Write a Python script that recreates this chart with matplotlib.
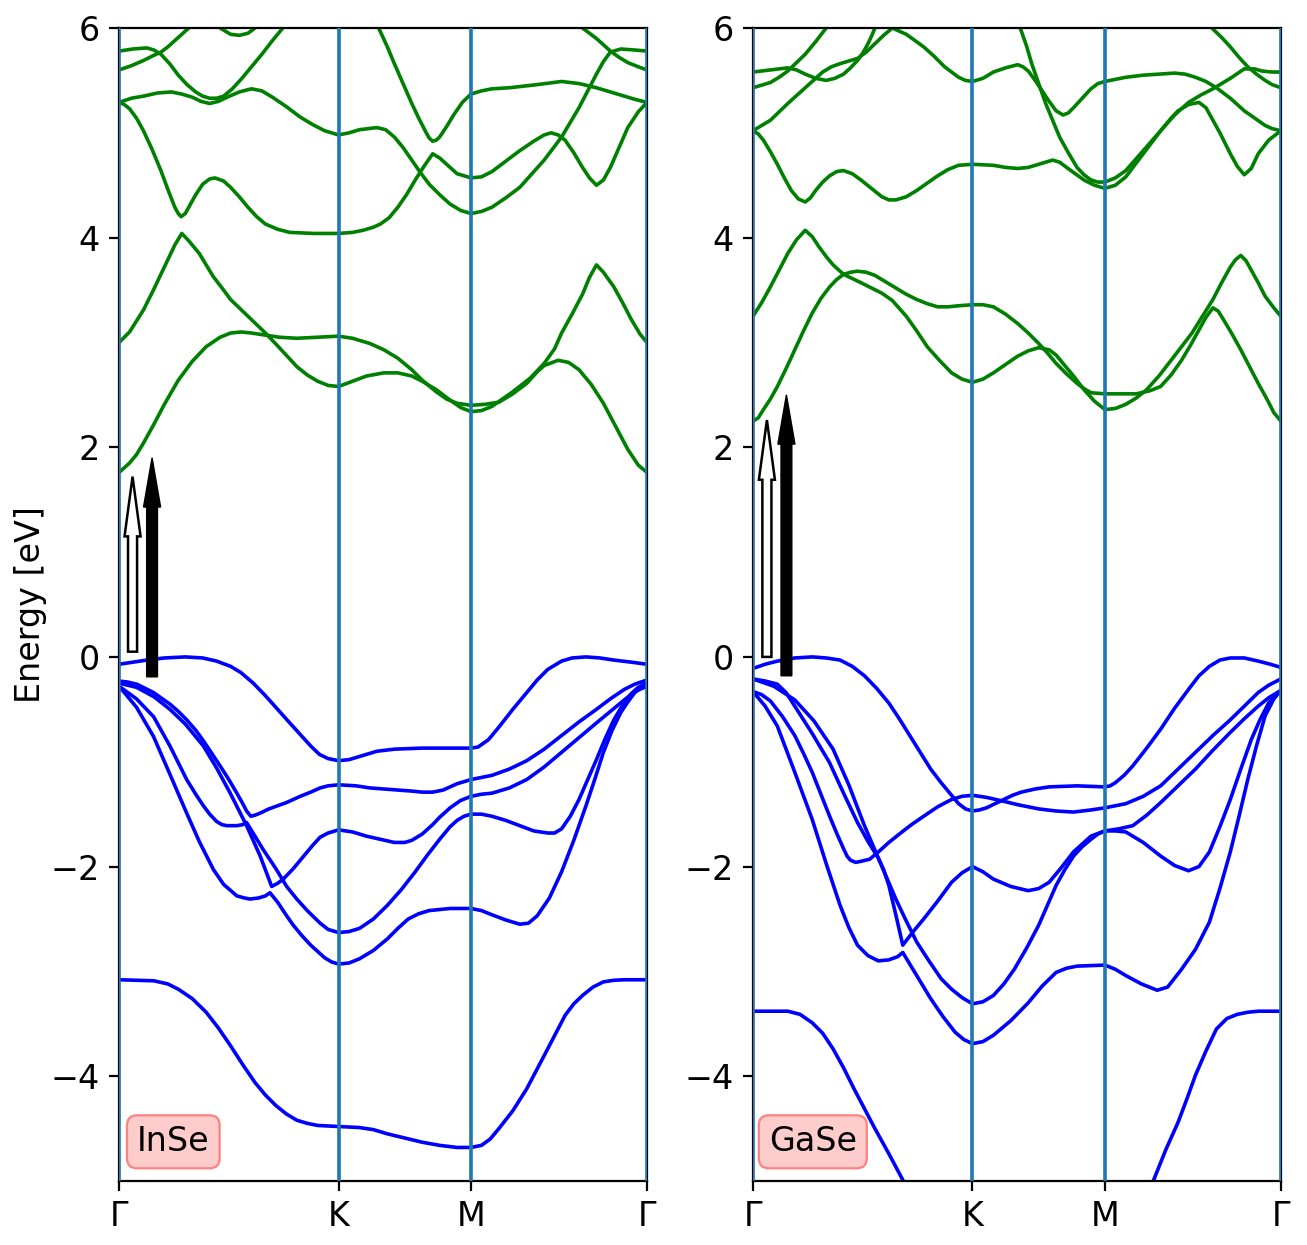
import matplotlib
matplotlib.use("Agg")
import matplotlib.pyplot as plt

# ---------------- k-path ----------------
kpath_ticks = [0.0, 0.630, 1.010, 1.515]
kpath_labels = ["Γ", "K", "M", "Γ"]
energy_ticks = [-4, -2, 0, 2, 4, 6]
materials = ["InSe", "GaSe"]

# ================= InSe (left) =================
inse_v1_k = [0, .04, .08, .13, .19, .24, .28, .32, .35, .385, .42, .455, .49, .52, .55, .575, .60, .63, .66, .69, .74, .79, .87, .97, 1.01, 1.03, 1.06, 1.09, 1.13, 1.17, 1.20, 1.23, 1.27, 1.30, 1.34, 1.38, 1.42, 1.47, 1.515]
inse_v1_e = [-0.07, -0.05, -0.03, -0.01, 0.0, -0.01, -0.04, -0.09, -0.15, -0.25, -0.37, -0.50, -0.63, -0.74, -0.85, -0.93, -0.97, -0.99, -0.98, -0.95, -0.90, -0.88, -0.87, -0.87, -0.87, -0.86, -0.79, -0.67, -0.50, -0.34, -0.22, -0.12, -0.04, -0.01, 0.0, -0.01, -0.03, -0.05, -0.07]

inse_v2_k = [0, .025, .051, .075, .099, .12, .146, .17, .194, .22, .242, .266, .290, .315, .338, .355, .366, .378, .39, .405, .43, .455, .48, .52, .55, .577, .60, .63, .68, .72, .76, .80, .84, .87, .90, .93, .95, .97, .99, 1.01, 1.04, 1.07, 1.12, 1.17, 1.22, 1.27, 1.32, 1.37, 1.41, 1.45, 1.48, 1.515]
inse_v2_e = [-0.23, -0.24, -0.26, -0.30, -0.34, -0.39, -0.45, -0.52, -0.60, -0.70, -0.80, -0.92, -1.04, -1.17, -1.30, -1.40, -1.47, -1.52, -1.51, -1.49, -1.45, -1.42, -1.39, -1.33, -1.29, -1.25, -1.23, -1.22, -1.23, -1.25, -1.26, -1.27, -1.28, -1.29, -1.29, -1.27, -1.24, -1.21, -1.19, -1.17, -1.15, -1.13, -1.07, -0.99, -0.88, -0.75, -0.62, -0.50, -0.40, -0.31, -0.26, -0.22]

inse_v3_k = [0, .05, .10, .146, .19, .242, .28, .319, .366, .405, .438, .455, .471, .50, .53, .555, .577, .60, .63, .67, .71, .75, .79, .82, .84, .87, .90, .92, .95, .98, 1.01, 1.04, 1.07, 1.12, 1.17, 1.22, 1.27, 1.32, 1.37, 1.41, 1.45, 1.48, 1.515]
inse_v3_e = [-0.25, -0.29, -0.38, -0.50, -0.64, -0.85, -1.06, -1.30, -1.61, -1.90, -2.19, -2.16, -2.12, -2.02, -1.90, -1.80, -1.72, -1.68, -1.65, -1.67, -1.71, -1.74, -1.77, -1.77, -1.75, -1.69, -1.60, -1.53, -1.44, -1.37, -1.33, -1.31, -1.30, -1.25, -1.17, -1.05, -0.91, -0.77, -0.63, -0.52, -0.41, -0.33, -0.28]

inse_v4_k = [0, .05, .099, .146, .194, .22, .242, .26, .280, .295, .309, .338, .355, .366, .39, .414, .45, .481, .51, .54, .577, .60, .63, .66, .69, .73, .77, .81, .85, .885, .92, .95, .97, .99, 1.01, 1.04, 1.07, 1.11, 1.15, 1.19, 1.23, 1.25, 1.27, 1.295, 1.32, 1.345, 1.37, 1.395, 1.42, 1.445, 1.47, 1.49, 1.515]
inse_v4_e = [-0.28, -0.40, -0.57, -0.85, -1.17, -1.31, -1.42, -1.50, -1.57, -1.60, -1.61, -1.61, -1.60, -1.58, -1.71, -1.84, -2.02, -2.19, -2.31, -2.42, -2.54, -2.60, -2.63, -2.62, -2.59, -2.50, -2.37, -2.22, -2.05, -1.89, -1.74, -1.62, -1.56, -1.52, -1.50, -1.50, -1.52, -1.56, -1.61, -1.66, -1.68, -1.68, -1.64, -1.52, -1.36, -1.17, -0.98, -0.78, -0.60, -0.46, -0.35, -0.29, -0.25]

inse_v5_k = [0, .05, .099, .146, .194, .23, .271, .30, .338, .36, .376, .40, .42, .433, .455, .481, .50, .525, .55, .59, .61, .63, .66, .69, .73, .77, .80, .83, .86, .89, .95, 1.01, 1.04, 1.07, 1.11, 1.15, 1.175, 1.20, 1.235, 1.27, 1.305, 1.34, 1.365, 1.39, 1.415, 1.44, 1.46, 1.48, 1.50, 1.515]
inse_v5_e = [-0.28, -0.48, -0.76, -1.12, -1.49, -1.76, -2.03, -2.17, -2.28, -2.30, -2.31, -2.30, -2.28, -2.25, -2.34, -2.47, -2.56, -2.66, -2.75, -2.87, -2.91, -2.93, -2.92, -2.88, -2.80, -2.69, -2.59, -2.50, -2.45, -2.42, -2.40, -2.40, -2.42, -2.46, -2.51, -2.55, -2.54, -2.47, -2.30, -2.05, -1.75, -1.42, -1.17, -0.91, -0.70, -0.53, -0.43, -0.34, -0.29, -0.26]

inse_v6_k = [0, .10, .14, .17, .21, .25, .285, .32, .355, .39, .42, .45, .48, .51, .54, .57, .63, .69, .73, .77, .82, .87, .92, .97, 1.01, 1.04, 1.065, 1.09, 1.13, 1.17, 1.20, 1.23, 1.255, 1.28, 1.305, 1.33, 1.36, 1.39, 1.42, 1.45, 1.515]
inse_v6_e = [-3.08, -3.09, -3.12, -3.17, -3.26, -3.39, -3.54, -3.71, -3.89, -4.06, -4.18, -4.28, -4.36, -4.42, -4.45, -4.47, -4.48, -4.49, -4.51, -4.55, -4.59, -4.63, -4.66, -4.68, -4.68, -4.66, -4.60, -4.50, -4.33, -4.12, -3.93, -3.74, -3.58, -3.42, -3.31, -3.23, -3.15, -3.10, -3.085, -3.08, -3.08]

inse_c1_k = [0, .03, .05, .07, .10, .13, .17, .21, .25, .29, .32, .35, .38, .42, .46, .51, .57, .63, .67, .72, .76, .80, .84, .87, .91, .94, .97, 1.01, 1.05, 1.09, 1.13, 1.17, 1.20, 1.22, 1.26, 1.29, 1.32, 1.355, 1.39, 1.425, 1.46, 1.49, 1.515]
inse_c1_e = [1.76, 1.85, 1.93, 2.04, 2.22, 2.41, 2.64, 2.82, 2.96, 3.05, 3.09, 3.10, 3.09, 3.07, 3.05, 3.04, 3.05, 3.06, 3.04, 2.99, 2.93, 2.85, 2.74, 2.64, 2.53, 2.46, 2.42, 2.40, 2.41, 2.43, 2.51, 2.61, 2.72, 2.78, 2.83, 2.81, 2.74, 2.60, 2.42, 2.20, 1.98, 1.83, 1.76]

inse_c2_k = [0, .03, .07, .10, .14, .16, .18, .20, .23, .25, .27, .30, .32, .37, .42, .46, .51, .54, .57, .60, .63, .67, .71, .76, .80, .84, .87, .91, .95, .98, 1.01, 1.04, 1.07, 1.10, 1.13, 1.18, 1.22, 1.25, 1.27, 1.30, 1.33, 1.35, 1.37, 1.39, 1.42, 1.445, 1.47, 1.495, 1.515]
inse_c2_e = [3.00, 3.10, 3.31, 3.51, 3.79, 3.93, 4.04, 3.97, 3.85, 3.74, 3.63, 3.50, 3.41, 3.25, 3.09, 2.95, 2.77, 2.69, 2.63, 2.59, 2.58, 2.63, 2.68, 2.71, 2.71, 2.68, 2.63, 2.55, 2.45, 2.38, 2.34, 2.35, 2.39, 2.46, 2.53, 2.66, 2.80, 2.94, 3.09, 3.27, 3.46, 3.62, 3.74, 3.67, 3.53, 3.38, 3.22, 3.08, 3.00]

inse_c3_k = [0, .015, .03, .05, .07, .095, .12, .14, .16, .17, .178, .19, .20, .22, .24, .26, .275, .30, .32, .345, .37, .395, .42, .455, .49, .56, .63, .67, .70, .73, .75, .775, .80, .825, .85, .875, .90, .92, .94, .97, 1.01, 1.04, 1.07, 1.11, 1.15, 1.19, 1.22, 1.24, 1.26, 1.28, 1.305, 1.33, 1.35, 1.37, 1.39, 1.41, 1.435, 1.46, 1.49, 1.515]
inse_c3_e = [5.29, 5.27, 5.23, 5.14, 5.02, 4.84, 4.64, 4.46, 4.29, 4.23, 4.20, 4.23, 4.29, 4.41, 4.51, 4.56, 4.57, 4.54, 4.48, 4.39, 4.29, 4.20, 4.13, 4.08, 4.05, 4.04, 4.04, 4.05, 4.07, 4.10, 4.13, 4.19, 4.29, 4.41, 4.55, 4.68, 4.80, 4.76, 4.70, 4.61, 4.57, 4.58, 4.63, 4.73, 4.83, 4.92, 4.98, 5.00, 4.98, 4.93, 4.81, 4.67, 4.57, 4.50, 4.55, 4.67, 4.86, 5.05, 5.20, 5.29]

inse_c4_k = [0, .035, .07, .11, .15, .18, .21, .235, .26, .285, .31, .345, .38, .41, .44, .48, .52, .555, .59, .63, .66, .69, .74, .765, .79, .815, .84, .865, .89, .92, .95, .98, 1.01, 1.04, 1.07, 1.11, 1.15, 1.185, 1.22, 1.245, 1.27, 1.295, 1.32, 1.345, 1.37, 1.39, 1.41, 1.44, 1.48, 1.515]
inse_c4_e = [5.29, 5.33, 5.35, 5.38, 5.39, 5.37, 5.34, 5.30, 5.28, 5.30, 5.34, 5.39, 5.42, 5.40, 5.34, 5.25, 5.15, 5.08, 5.02, 4.98, 5.00, 5.03, 5.05, 5.03, 4.96, 4.86, 4.74, 4.62, 4.51, 4.41, 4.32, 4.26, 4.23, 4.25, 4.29, 4.38, 4.48, 4.61, 4.74, 4.85, 4.96, 5.10, 5.24, 5.40, 5.56, 5.68, 5.77, 5.80, 5.79, 5.78]

inse_c5_k = [0, .04, .08, .10, .12, .145, .17, .195, .22, .24, .26, .28, .30, .325, .35, .38, .41, .44, .47, .49]
inse_c5_e = [5.78, 5.80, 5.81, 5.79, 5.75, 5.66, 5.55, 5.46, 5.39, 5.35, 5.33, 5.33, 5.35, 5.42, 5.51, 5.63, 5.75, 5.88, 6.00, 6.07]

inse_c6_k = [0, .035, .07, .10, .12, .14, .16, .18, .20, .22]
inse_c6_e = [5.60, 5.64, 5.69, 5.74, 5.77, 5.82, 5.88, 5.94, 6.00, 6.07]

inse_c7_k = [.27, .29, .32, .345, .37, .39, .41]
inse_c7_e = [6.07, 6.00, 5.94, 5.93, 5.95, 6.00, 6.07]

inse_c8_k = [.73, .745, .77, .79, .815, .84, .86, .88, .89, .90, .91, .92, .94, .96, .985, 1.01, 1.04, 1.07, 1.12, 1.20, 1.27, 1.32, 1.37, 1.41, 1.44, 1.48, 1.515]
inse_c8_e = [6.07, 6.00, 5.82, 5.66, 5.47, 5.28, 5.14, 5.01, 4.95, 4.92, 4.93, 4.96, 5.06, 5.17, 5.29, 5.37, 5.40, 5.42, 5.43, 5.46, 5.49, 5.47, 5.43, 5.39, 5.36, 5.32, 5.29]

inse_c9_k = [1.31, 1.33, 1.35, 1.37, 1.39, 1.41, 1.435, 1.46, 1.49, 1.515]
inse_c9_e = [6.07, 6.00, 5.95, 5.90, 5.84, 5.78, 5.72, 5.67, 5.63, 5.60]

# ================= GaSe (right) =================
gase_v1_k = [0, .035, .07, .12, .17, .21, .25, .285, .32, .355, .39, .42, .45, .48, .51, .54, .57, .59, .61, .63, .65, .67, .695, .72, .745, .77, .81, .85, .93, 1.01, 1.025, 1.04, 1.065, 1.09, 1.13, 1.17, 1.21, 1.25, 1.28, 1.31, 1.34, 1.37, 1.41, 1.45, 1.485, 1.515]
gase_v1_e = [-0.11, -0.07, -0.04, -0.01, 0.0, -0.01, -0.03, -0.09, -0.18, -0.30, -0.44, -0.59, -0.75, -0.91, -1.07, -1.20, -1.32, -1.40, -1.45, -1.47, -1.46, -1.44, -1.40, -1.36, -1.32, -1.29, -1.26, -1.24, -1.23, -1.24, -1.23, -1.20, -1.13, -1.04, -0.87, -0.69, -0.49, -0.31, -0.18, -0.09, -0.03, -0.01, -0.01, -0.04, -0.07, -0.10]

gase_v2_k = [0, .025, .05, .085, .12, .145, .17, .195, .22, .24, .26, .27, .28, .295, .31, .335, .36, .39, .42, .455, .49, .53, .57, .60, .63, .67, .71, .76, .82, .87, .92, .97, 1.01, 1.04, 1.07, 1.12, 1.17, 1.22, 1.27, 1.32, 1.37, 1.41, 1.45, 1.48, 1.515]
gase_v2_e = [-0.33, -0.36, -0.42, -0.57, -0.75, -0.92, -1.10, -1.31, -1.52, -1.68, -1.83, -1.90, -1.94, -1.96, -1.95, -1.93, -1.86, -1.77, -1.69, -1.60, -1.52, -1.43, -1.36, -1.33, -1.32, -1.34, -1.37, -1.41, -1.45, -1.47, -1.48, -1.46, -1.44, -1.42, -1.40, -1.33, -1.23, -1.07, -0.91, -0.75, -0.60, -0.47, -0.34, -0.27, -0.21]

gase_v3_k = [0, .035, .07, .095, .12, .17, .22, .26, .30, .33, .36, .375, .39, .41, .43, .46, .49, .53, .57, .60, .63, .66, .69, .74, .79, .82, .85, .885, .92, .95, .97, 1.01, 1.04, 1.07, 1.12, 1.17, 1.21, 1.25, 1.28, 1.31, 1.34, 1.37, 1.40, 1.43, 1.455, 1.48, 1.50, 1.515]
gase_v3_e = [-0.21, -0.23, -0.26, -0.34, -0.47, -0.73, -1.01, -1.30, -1.58, -1.76, -1.92, -2.03, -2.18, -2.46, -2.75, -2.62, -2.50, -2.33, -2.15, -2.06, -2.00, -2.05, -2.12, -2.19, -2.23, -2.21, -2.15, -2.01, -1.86, -1.77, -1.71, -1.66, -1.66, -1.67, -1.77, -1.90, -1.99, -2.04, -2.00, -1.86, -1.62, -1.36, -1.07, -0.79, -0.60, -0.44, -0.36, -0.32]

gase_v4_k = [0, .06, .12, .175, .23, .275, .32, .365, .41, .44, .47, .505, .54, .57, .60, .63, .66, .69, .72, .75, .785, .82, .845, .87, .895, .92, .945, .97, .99, 1.01, 1.05, 1.09, 1.13, 1.17, 1.22, 1.27, 1.32, 1.37, 1.41, 1.45, 1.48, 1.515]
gase_v4_e = [-0.21, -0.28, -0.41, -0.61, -0.88, -1.22, -1.61, -1.96, -2.31, -2.52, -2.72, -2.90, -3.07, -3.17, -3.25, -3.31, -3.29, -3.23, -3.12, -2.98, -2.78, -2.56, -2.37, -2.18, -2.03, -1.90, -1.81, -1.74, -1.69, -1.66, -1.64, -1.61, -1.51, -1.39, -1.23, -1.07, -0.89, -0.72, -0.59, -0.47, -0.39, -0.32]

gase_v5_k = [0, .035, .07, .12, .17, .21, .25, .275, .30, .33, .36, .39, .415, .43, .47, .51, .545, .58, .605, .63, .66, .69, .74, .79, .83, .87, .90, .93, 1.01, 1.04, 1.07, 1.115, 1.16, 1.19, 1.23, 1.27, 1.31, 1.34, 1.37, 1.395, 1.42, 1.445, 1.47, 1.495, 1.515]
gase_v5_e = [-0.33, -0.47, -0.66, -1.10, -1.55, -1.97, -2.37, -2.58, -2.75, -2.85, -2.90, -2.89, -2.86, -2.82, -3.04, -3.26, -3.43, -3.58, -3.65, -3.69, -3.67, -3.61, -3.47, -3.30, -3.14, -3.01, -2.97, -2.95, -2.94, -2.98, -3.04, -3.12, -3.18, -3.15, -2.98, -2.79, -2.53, -2.21, -1.86, -1.52, -1.17, -0.85, -0.56, -0.40, -0.32]

gase_v6a_k = [0, .10, .135, .17, .20, .23, .26, .29, .32, .35, .39, .43, .45]
gase_v6a_e = [-3.38, -3.38, -3.41, -3.49, -3.59, -3.74, -3.92, -4.12, -4.31, -4.50, -4.74, -4.99, -5.14]
gase_v6b_k = [1.13, 1.15, 1.185, 1.22, 1.245, 1.27, 1.30, 1.33, 1.36, 1.39, 1.42, 1.45, 1.515]
gase_v6b_e = [-5.20, -4.99, -4.70, -4.44, -4.22, -3.99, -3.76, -3.55, -3.45, -3.41, -3.39, -3.38, -3.38]

gase_c1_k = [0, .015, .03, .05, .07, .095, .12, .145, .17, .195, .22, .24, .26, .28, .30, .325, .35, .38, .41, .44, .47, .50, .53, .56, .59, .63, .66, .69, .725, .76, .79, .82, .845, .87, .90, .93, .95, .97, 1.01, 1.05, 1.10, 1.14, 1.17, 1.20, 1.23, 1.255, 1.28, 1.30, 1.32, 1.335, 1.35, 1.375, 1.40, 1.425, 1.45, 1.475, 1.495, 1.515]
gase_c1_e = [2.25, 2.28, 2.36, 2.46, 2.58, 2.75, 2.93, 3.11, 3.28, 3.42, 3.53, 3.60, 3.65, 3.67, 3.68, 3.67, 3.64, 3.58, 3.52, 3.46, 3.41, 3.37, 3.34, 3.34, 3.35, 3.36, 3.36, 3.34, 3.27, 3.18, 3.09, 2.99, 2.90, 2.80, 2.70, 2.61, 2.56, 2.52, 2.51, 2.51, 2.51, 2.54, 2.58, 2.69, 2.83, 2.97, 3.12, 3.24, 3.33, 3.30, 3.22, 3.08, 2.93, 2.77, 2.61, 2.46, 2.33, 2.25]

gase_c2_k = [0, .025, .05, .075, .10, .125, .15, .17, .19, .21, .23, .26, .285, .31, .34, .37, .40, .44, .47, .50, .535, .57, .60, .63, .66, .69, .725, .76, .79, .82, .85, .87, .89, .92, .95, .98, 1.01, 1.04, 1.07, 1.10, 1.13, 1.165, 1.20, 1.23, 1.26, 1.29, 1.32, 1.345, 1.37, 1.385, 1.40, 1.415, 1.43, 1.45, 1.47, 1.495, 1.515]
gase_c2_e = [3.25, 3.38, 3.53, 3.69, 3.85, 3.98, 4.07, 4.01, 3.91, 3.82, 3.74, 3.65, 3.61, 3.57, 3.52, 3.47, 3.40, 3.25, 3.11, 2.96, 2.83, 2.71, 2.65, 2.62, 2.65, 2.71, 2.79, 2.87, 2.92, 2.95, 2.93, 2.88, 2.80, 2.68, 2.55, 2.44, 2.36, 2.37, 2.41, 2.47, 2.55, 2.68, 2.83, 2.96, 3.09, 3.25, 3.41, 3.57, 3.72, 3.79, 3.83, 3.78, 3.69, 3.57, 3.44, 3.33, 3.25]

gase_c3_k = [0, .015, .03, .05, .07, .09, .11, .13, .15, .165, .18, .20, .22, .24, .26, .285, .31, .34, .37, .39, .41, .44, .47, .50, .53, .56, .59, .63, .69, .725, .76, .79, .82, .86, .88, .90, .925, .95, .98, 1.01, 1.04, 1.07, 1.12, 1.17, 1.20, 1.22, 1.25, 1.28, 1.30, 1.31, 1.34, 1.37, 1.39, 1.41, 1.43, 1.45, 1.48, 1.515]
gase_c3_e = [5.02, 4.99, 4.93, 4.82, 4.70, 4.57, 4.45, 4.37, 4.34, 4.38, 4.45, 4.53, 4.59, 4.63, 4.64, 4.61, 4.55, 4.47, 4.39, 4.36, 4.36, 4.39, 4.45, 4.52, 4.59, 4.65, 4.69, 4.70, 4.69, 4.67, 4.66, 4.67, 4.70, 4.74, 4.72, 4.67, 4.61, 4.55, 4.50, 4.47, 4.50, 4.58, 4.80, 5.02, 5.14, 5.21, 5.27, 5.29, 5.24, 5.18, 5.00, 4.80, 4.68, 4.60, 4.66, 4.80, 4.93, 5.02]

gase_c4_k = [0, .05, .10, .15, .20, .225, .25, .30, .325, .35, .375, .40, .44, .465, .49, .52, .55, .59, .61, .63, .66, .69, .725, .76, .775, .79, .81, .83, .85, .87, .89, .905, .92, .945, .97, .99, 1.01, 1.07, 1.12, 1.21, 1.24, 1.27, 1.30, 1.33, 1.37, 1.41, 1.44, 1.47, 1.49, 1.515]
gase_c4_e = [5.02, 5.12, 5.28, 5.43, 5.58, 5.63, 5.66, 5.71, 5.77, 5.85, 5.93, 6.00, 5.94, 5.88, 5.82, 5.73, 5.63, 5.53, 5.50, 5.49, 5.52, 5.58, 5.62, 5.65, 5.63, 5.59, 5.50, 5.40, 5.30, 5.21, 5.17, 5.19, 5.24, 5.33, 5.42, 5.47, 5.49, 5.53, 5.55, 5.57, 5.56, 5.53, 5.49, 5.43, 5.33, 5.21, 5.14, 5.07, 5.04, 5.02]

gase_c5_k = [0, .05, .10, .125, .15, .18, .21, .235, .26, .28, .30, .315, .33, .34, .35, .357]
gase_c5_e = [5.58, 5.60, 5.62, 5.60, 5.56, 5.52, 5.50, 5.52, 5.56, 5.62, 5.69, 5.76, 5.85, 5.92, 6.00, 6.07]

gase_c6_k = [0, .05, .075, .10, .125, .15, .18, .21, .217]
gase_c6_e = [5.43, 5.48, 5.53, 5.59, 5.67, 5.75, 5.87, 6.00, 6.07]

gase_c7_k = [.757, .767, .785, .80, .82, .84, .86, .88, .905, .93, .95, .97, .99, 1.01, 1.04, 1.07, 1.12, 1.17, 1.21, 1.25, 1.285, 1.32, 1.37, 1.41, 1.44, 1.46, 1.49, 1.515]
gase_c7_e = [6.07, 6.00, 5.83, 5.66, 5.47, 5.28, 5.12, 4.96, 4.81, 4.67, 4.60, 4.55, 4.53, 4.53, 4.57, 4.64, 4.83, 5.02, 5.17, 5.29, 5.36, 5.42, 5.52, 5.61, 5.61, 5.59, 5.58, 5.58]

gase_c8_k = [1.30, 1.317, 1.345, 1.37, 1.395, 1.42, 1.445, 1.47, 1.49, 1.515]
gase_c8_e = [6.07, 6.00, 5.91, 5.82, 5.72, 5.63, 5.56, 5.50, 5.46, 5.43]

# gap arrows: (k position, start energy, end energy)
inse_arrow_k = [0.0387, 0.0947]
inse_arrow_start = [0.05, -0.19]
inse_arrow_end = [1.72, 1.90]
gase_arrow_k = [0.040, 0.096]
gase_arrow_start = [0.0, -0.18]
gase_arrow_end = [2.26, 2.50]

inse_valence = [(inse_v1_k, inse_v1_e), (inse_v2_k, inse_v2_e), (inse_v3_k, inse_v3_e),
                (inse_v4_k, inse_v4_e), (inse_v5_k, inse_v5_e), (inse_v6_k, inse_v6_e)]
inse_conduction = [(inse_c1_k, inse_c1_e), (inse_c2_k, inse_c2_e), (inse_c3_k, inse_c3_e),
                   (inse_c4_k, inse_c4_e), (inse_c5_k, inse_c5_e), (inse_c6_k, inse_c6_e),
                   (inse_c7_k, inse_c7_e), (inse_c8_k, inse_c8_e), (inse_c9_k, inse_c9_e)]
gase_valence = [(gase_v1_k, gase_v1_e), (gase_v2_k, gase_v2_e), (gase_v3_k, gase_v3_e),
                (gase_v4_k, gase_v4_e), (gase_v5_k, gase_v5_e), (gase_v6a_k, gase_v6a_e),
                (gase_v6b_k, gase_v6b_e)]
gase_conduction = [(gase_c1_k, gase_c1_e), (gase_c2_k, gase_c2_e), (gase_c3_k, gase_c3_e),
                   (gase_c4_k, gase_c4_e), (gase_c5_k, gase_c5_e), (gase_c6_k, gase_c6_e),
                   (gase_c7_k, gase_c7_e), (gase_c8_k, gase_c8_e)]

panels = [
    (inse_valence, inse_conduction, inse_arrow_k, inse_arrow_start, inse_arrow_end, 0.034),
    (gase_valence, gase_conduction, gase_arrow_k, gase_arrow_start, gase_arrow_end, 0.030),
]

fig = plt.figure(figsize=(6.535, 6.225), dpi=200)
axes = [fig.add_axes([0.0911, 0.0514, 0.4039, 0.9261]),
        fig.add_axes([0.5761, 0.0514, 0.4039, 0.9261])]

for ax, name, (val, con, ak, a0, a1, lx) in zip(axes, materials, panels):
    for k, e in val:
        ax.plot(k, e, color="b", lw=1.3, zorder=2, solid_joinstyle="round")
    for k, e in con:
        ax.plot(k, e, color="g", lw=1.3, zorder=2, solid_joinstyle="round")
    for kt in kpath_ticks:
        ax.axvline(kt, color="C0", lw=1.3, zorder=3)
    ax.arrow(ak[0], a0[0], 0, a1[0] - a0[0], width=0.026, head_width=0.046,
             head_length=0.57, length_includes_head=True, fc="white", ec="black",
             lw=0.9, zorder=4)
    ax.arrow(ak[1], a0[1], 0, a1[1] - a0[1], width=0.031, head_width=0.049,
             head_length=0.47, length_includes_head=True, fc="black", ec="black",
             lw=0.5, zorder=4)
    ax.set_xlim(kpath_ticks[0], kpath_ticks[-1])
    ax.set_ylim(-5, 6)
    ax.set_xticks(kpath_ticks)
    ax.set_xticklabels(kpath_labels)
    ax.set_yticks(energy_ticks)
    ax.tick_params(labelsize=12)
    ax.text(lx, 0.034, name, transform=ax.transAxes, fontsize=12, ha="left", va="center",
            zorder=5,
            bbox=dict(boxstyle="round,pad=0.3", fc="#ffcccc", ec="#ff8080", lw=0.8))

axes[0].set_ylabel("Energy [eV]", fontsize=12, labelpad=1)
fig.savefig("out.png", dpi=200)
